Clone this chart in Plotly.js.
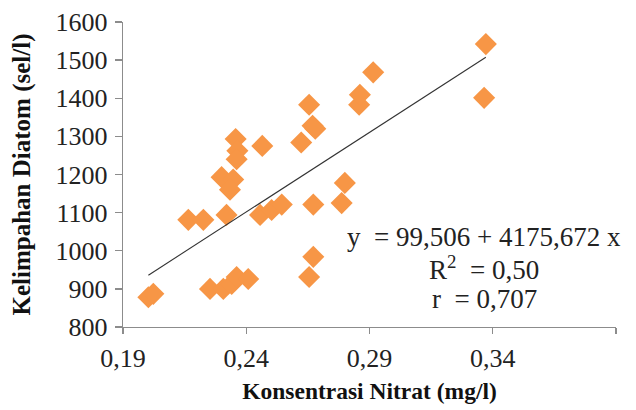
<!DOCTYPE html>
<html>
<head>
<meta charset="utf-8">
<script src="https://cdn.plot.ly/plotly-3.0.1.min.js"></script>
<style>html,body{margin:0;padding:0;background:#fff;}#chart{width:636px;height:410px;}</style>
</head>
<body>
<div id="chart"></div>
<script>
// Nitrate concentration (mg/l)
const nitrat = [0.2003, 0.2023, 0.2165, 0.2226, 0.2253, 0.2307, 0.2341, 0.2361, 0.2408,
  0.2300, 0.2347, 0.2334, 0.2320, 0.2357, 0.2364, 0.2361, 0.2465, 0.2456, 0.2503, 0.2544,
  0.2623, 0.2655, 0.2669, 0.2680, 0.2672, 0.2672, 0.2655, 0.2787, 0.2800, 0.2858, 0.2861,
  0.2915, 0.3365, 0.3372];
// Diatom abundance (sel/l)
const diatom = [878, 887, 1081, 1081, 900, 900, 913, 931, 926,
  1193, 1187, 1160, 1094, 1293, 1262, 1240, 1275, 1094, 1107, 1121,
  1284, 1383, 1328, 1320, 1121, 984, 931, 1125, 1178, 1383, 1409,
  1468, 1401, 1542];
// Regression coefficients: y = a + b x
const coef = [99.506, 4175.672];
const eqLines = ["y  = 99,506 + 4175,672 x", "R<sup>2</sup>  = 0,50", "r  = 0,707"];
const xTicks = [0.19, 0.24, 0.29, 0.34, 0.39];
const yTicks = [800, 900, 1000, 1100, 1200, 1300, 1400, 1500, 1600];

const xMin = Math.min(...nitrat), xMax = Math.max(...nitrat);
const fitX = [xMin, xMax];
const fitY = fitX.map(v => coef[0] + coef[1] * v);

const serif = '"Liberation Serif", "Times New Roman", Times, serif';

const data = [
  {x: nitrat, y: diatom, type: 'scatter', mode: 'markers',
   marker: {symbol: 'diamond', size: 17, color: '#F79646', line: {width: 0}}},
  {x: fitX, y: fitY, type: 'scatter', mode: 'lines',
   line: {color: '#333333', width: 1.1}}
];

const axisCommon = {
  showgrid: false, zeroline: false, showline: true, linecolor: '#8c8c8c', linewidth: 1.3,
  ticks: 'outside', tickcolor: '#8c8c8c', tickwidth: 1.3,
  tickfont: {family: serif, size: 26, color: '#222'}
};

const layout = {
  width: 636, height: 410,
  margin: {l: 123, r: 20, t: 22, b: 83},
  paper_bgcolor: '#fff', plot_bgcolor: '#fff',
  font: {family: serif},
  showlegend: false,
  separators: ',.',
  xaxis: Object.assign({}, axisCommon, {
    range: [0.19, 0.39], tickvals: xTicks, tickformat: '.2f', ticklen: 6, ticklabelstandoff: 1,
    title: {text: '<b>Konsentrasi Nitrat (mg/l)</b>', font: {family: serif, size: 23.5, color: '#111'}, standoff: 11}
  }),
  yaxis: Object.assign({}, axisCommon, {
    range: [800, 1600], tickvals: yTicks, ticklen: 7, ticklabelstandoff: 2,
    title: {text: '<b>Kelimpahan Diatom (sel/l)</b>', font: {family: serif, size: 25, color: '#111'}, standoff: 17}
  }),
  annotations: eqLines.map((t, i) => ({
    text: t, xref: 'paper', yref: 'paper', x: (484 - 123) / 493, y: (327 - (237 + i * 31)) / 305,
    xanchor: 'center', yanchor: 'middle', showarrow: false,
    font: {family: serif, size: 27, color: '#222'}
  }))
};

Plotly.newPlot('chart', data, layout, {displayModeBar: false, staticPlot: true});
</script>
</body>
</html>
